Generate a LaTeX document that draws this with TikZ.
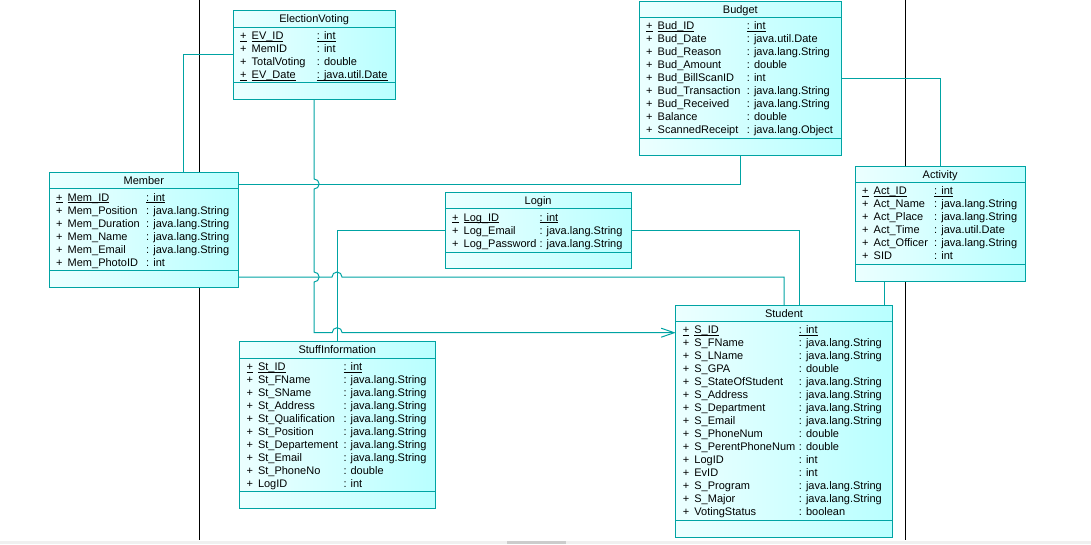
\documentclass[tikz,border=0pt]{standalone}
\usepackage{fontspec}
\setmainfont{Liberation Sans}
\usetikzlibrary{arrows.meta}
\definecolor{umlline}{RGB}{0,163,163}
\definecolor{umlfillA}{RGB}{236,255,255}
\definecolor{umlfillB}{RGB}{184,255,255}
\tikzset{
  classbox/.style={draw=umlline, line width=1pt, left color=umlfillA, right color=umlfillB,
    inner sep=0pt, outer sep=0pt, anchor=north west},
  sepline/.style={draw=umlline, line width=1pt},
  link/.style={draw=umlline, line width=1pt},
  txt/.style={inner sep=0pt, font=\fontsize{11}{13}\selectfont, anchor=base west},
  swim/.style={draw=black, line width=0.8pt}
}
% key underline, kept close to the baseline
\newcommand{\keyul}[1]{\underline{\smash{#1}}}
% class box: name, x, y, width, height, title
\newcommand{\umlclass}[6]{%
  \node[classbox, minimum width=#4, minimum height=#5] (#1) at (#2,#3) {};
  \node[txt, anchor=base] (#1-title) at ([yshift=-12]#1.north) {#6};
  \draw[sepline] ([yshift=-16.5]#1.north west) -- ([yshift=-16.5]#1.north east);
  \draw[sepline] ([yshift=16.7]#1.south west) -- ([yshift=16.7]#1.south east);
}
% attributes: class name, type column, list key/name/type
\newcommand{\umlattrs}[3]{%
  \foreach \key/\fname/\ftype [count=\rowi from 0] in {#3} {
    \ifnum\key=1
      \node[txt] at ([xshift=7, yshift=-28.8-13*\rowi]#1.north west) {\keyul{+}};
      \node[txt] at ([xshift=18.5, yshift=-28.8-13*\rowi]#1.north west) {\keyul{\fname}};
      \node[txt] at ([xshift=#2, yshift=-28.8-13*\rowi]#1.north west) {\keyul{: \ftype}};
    \else
      \node[txt] at ([xshift=7, yshift=-28.8-13*\rowi]#1.north west) {+};
      \node[txt] at ([xshift=18.5, yshift=-28.8-13*\rowi]#1.north west) {\fname};
      \node[txt] at ([xshift=#2, yshift=-28.8-13*\rowi]#1.north west) {: \ftype};
    \fi
  }}
\begin{document}
\begin{tikzpicture}[x=1pt, y=-1pt]
  \useasboundingbox (0,0) rectangle (1091,544);
  % lanes
  \draw[swim] (199,0) -- (199,540);
  \draw[swim] (905,0) -- (905,540);
  \fill[black!6] (0,540.5) rectangle (1091,544);
  \fill[black!20] (507,540.5) rectangle (566,544);

  % classes
  \umlclass{ev}{233}{10.7}{162.3}{88.3}{ElectionVoting}
  \umlattrs{ev}{83.7}{1/EV\_ID/int, 0/MemID/int, 0/TotalVoting/double, 1/EV\_Date/java.util.Date}

  \umlclass{bud}{639}{1}{202.7}{154}{Budget}
  \umlattrs{bud}{107.7}{1/Bud\_ID/int, 0/Bud\_Date/java.util.Date, 0/Bud\_Reason/java.lang.String,
    0/Bud\_Amount/double, 0/Bud\_BillScanID/int, 0/Bud\_Transaction/java.lang.String,
    0/Bud\_Received/java.lang.String, 0/Balance/double, 0/ScannedReceipt/java.lang.Object}

  \umlclass{mem}{49}{172.3}{189.7}{114.7}{Member}
  \umlattrs{mem}{97}{1/Mem\_ID/int, 0/Mem\_Position/java.lang.String, 0/Mem\_Duration/java.lang.String,
    0/Mem\_Name/java.lang.String, 0/Mem\_Email/java.lang.String, 0/Mem\_PhotoID/int}

  \umlclass{log}{445}{192.3}{186.3}{76.4}{Login}
  \umlattrs{log}{94.3}{1/Log\_ID/int, 0/Log\_Email/java.lang.String, 0/Log\_Password/java.lang.String}

  \umlclass{act}{855}{166}{170.3}{115}{Activity}
  \umlattrs{act}{79}{1/Act\_ID/int, 0/Act\_Name/java.lang.String, 0/Act\_Place/java.lang.String,
    0/Act\_Time/java.util.Date, 0/Act\_Officer/java.lang.String, 0/SID/int}

  \umlclass{stf}{239.3}{341.7}{196}{166.6}{StuffInformation}
  \umlattrs{stf}{104}{1/St\_ID/int, 0/St\_FName/java.lang.String, 0/St\_SName/java.lang.String,
    0/St\_Address/java.lang.String, 0/St\_Qualification/java.lang.String, 0/St\_Position/java.lang.String,
    0/St\_Departement/java.lang.String, 0/St\_Email/java.lang.String, 0/St\_PhoneNo/double, 0/LogID/int}

  \umlclass{stu}{675.7}{305}{216.6}{232.3}{Student}
  \umlattrs{stu}{123}{1/S\_ID/int, 0/S\_FName/java.lang.String, 0/S\_LName/java.lang.String,
    0/S\_GPA/double, 0/S\_StateOfStudent/java.lang.String, 0/S\_Address/java.lang.String,
    0/S\_Department/java.lang.String, 0/S\_Email/java.lang.String, 0/S\_PhoneNum/double,
    0/S\_PerentPhoneNum/double, 0/LogID/int, 0/EvID/int, 0/S\_Program/java.lang.String,
    0/S\_Major/java.lang.String, 0/VotingStatus/boolean}

  % links
  \draw[link] (ev.west) -| ([xshift=-55.5]mem.north east);
  \draw[link, -{Straight Barb[length=13pt,width=9pt]}] (ev.south) -- ++(0,80)
    arc[start angle=90, end angle=-90, radius=5pt] -- ++(0,83)
    arc[start angle=90, end angle=-90, radius=5pt] -- ++(0,50.7) -- ++(18,0)
    arc[start angle=180, end angle=0, radius=5pt] -- ([yshift=-27.7]stu.north west);
  \draw[link] ([yshift=-12]mem.north east) -| (bud.south);
  \draw[link] ([yshift=10]mem.south east) -- (332,277)
    arc[start angle=180, end angle=0, radius=5pt] -| (stu.north);
  \draw[link] (log.west) -| (stf.north);
  \draw[link] (log.east) -| ([xshift=15.3]stu.north);
  \draw[link] (bud.east) -| (act.north);
  \draw[link] ([xshift=-55.5]act.south) -- ([xshift=-55.5]act.south |- stu.north);
\end{tikzpicture}
\end{document}
